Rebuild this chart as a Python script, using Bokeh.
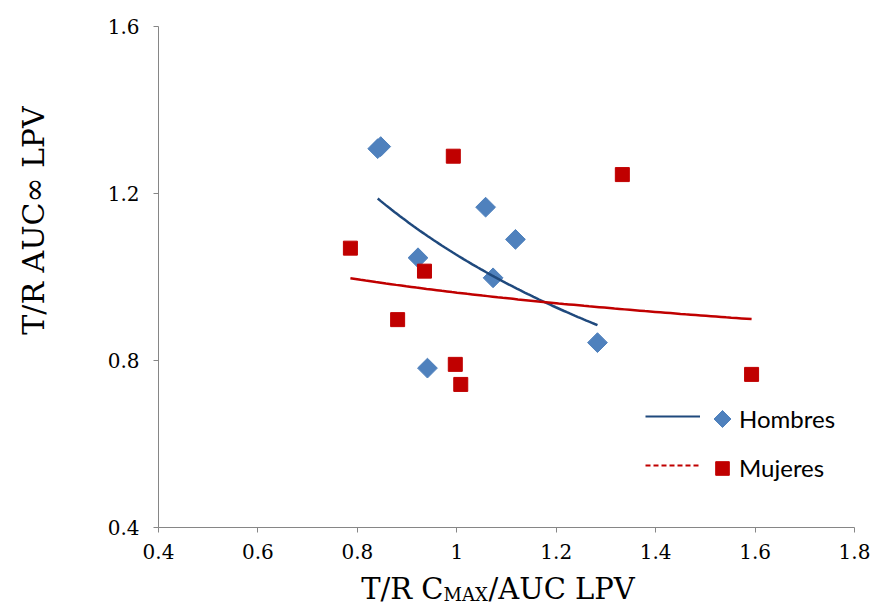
import numpy as np
from bokeh.plotting import figure
from bokeh.models import Range1d, FixedTicker, Legend, LegendItem, Label
from bokeh.embed import file_html
from bokeh.resources import INLINE

# T/R ratios per subject: Cmax/AUC (x) against AUC-infinity (y), levetiracetam
hombres_cmax = [0.841, 0.847, 1.058, 1.118, 0.922, 1.073, 1.283, 0.941]
hombres_auc = [1.307, 1.312, 1.167, 1.090, 1.046, 0.998, 0.843, 0.782]
mujeres_cmax = [0.993, 1.333, 0.786, 0.935, 0.881, 0.997, 1.008, 1.593]
mujeres_auc = [1.289, 1.245, 1.069, 1.014, 0.898, 0.791, 0.743, 0.767]

series_names = ["Hombres", "Mujeres"]

x_ticks = [0.4, 0.6, 0.8, 1.0, 1.2, 1.4, 1.6, 1.8]
x_tick_labels = ["0.4", "0.6", "0.8", "1", "1.2", "1.4", "1.6", "1.8"]
y_ticks = [0.4, 0.8, 1.2, 1.6]
y_tick_labels = ["0.4", "0.8", "1.2", "1.6"]

BLUE = "#4F81BD"
BLUE_TREND = "#1F497D"
RED = "#C00000"
AXIS_GREY = "#868686"
SERIF = "DejaVu Serif"

W, H = 872, 606
# pixel box of the plotting area inside the canvas (left, right, top, bottom)
AREA_L, AREA_R, AREA_T, AREA_B = 158, 854, 25.7, 527.3


def power_trend(x, y, n=80):
    """Least-squares power fit y = a * x**b (log-log regression)."""
    b, ln_a = np.polyfit(np.log(x), np.log(y), 1)
    xs = np.linspace(min(x), max(x), n)
    return xs, np.exp(ln_a) * xs ** b


# The frame covers the whole canvas so titles can sit in data space;
# the axes are pinned at the lower/left edge of the value box.
xs_per_px = (x_ticks[-1] - x_ticks[0]) / (AREA_R - AREA_L)
ys_per_px = (y_ticks[-1] - y_ticks[0]) / (AREA_B - AREA_T)
x_range = Range1d(x_ticks[0] - AREA_L * xs_per_px, x_ticks[-1] + (W - AREA_R) * xs_per_px)
y_range = Range1d(y_ticks[0] - (H - AREA_B) * ys_per_px, y_ticks[-1] + AREA_T * ys_per_px)


def px_x(px):
    return x_range.start + px * xs_per_px


def px_y(py):
    return y_range.end - py * ys_per_px


p = figure(
    width=W, height=H, x_range=x_range, y_range=y_range,
    output_backend="svg", toolbar_location=None,
    min_border=0, min_border_left=0, min_border_right=0,
    min_border_top=0, min_border_bottom=0,
)
p.grid.visible = False
p.outline_line_color = None
p.background_fill_color = "white"
p.border_fill_color = "white"

for ax in (p.xaxis[0], p.yaxis[0]):
    ax.axis_line_color = AXIS_GREY
    ax.axis_line_width = 1
    ax.major_tick_line_color = AXIS_GREY
    ax.major_tick_out = 5
    ax.major_tick_in = 0
    ax.minor_tick_line_color = None
    ax.major_label_text_font = SERIF
    ax.major_label_text_font_size = "20px"
    ax.major_label_text_color = "black"

p.xaxis.fixed_location = y_ticks[0]
p.xaxis.bounds = (x_ticks[0], x_ticks[-1])
p.xaxis.ticker = FixedTicker(ticks=x_ticks)
p.xaxis.major_label_overrides = dict(zip(x_ticks, x_tick_labels))
p.xaxis.major_label_standoff = 11
p.yaxis.fixed_location = x_ticks[0]
p.yaxis.bounds = (y_ticks[0], y_ticks[-1])
p.yaxis.ticker = FixedTicker(ticks=y_ticks)
p.yaxis.major_label_overrides = dict(zip(y_ticks, y_tick_labels))
p.yaxis.major_label_standoff = 14

# scatter points
h_pts = p.scatter(hombres_cmax, hombres_auc, marker="square", angle=np.pi / 4,
                  size=14, fill_color=BLUE, line_color=BLUE)
m_pts = p.scatter(mujeres_cmax, mujeres_auc, marker="square",
                  size=14, fill_color=RED, line_color=RED)

# power trend lines
hx, hy = power_trend(hombres_cmax, hombres_auc)
mx, my = power_trend(mujeres_cmax, mujeres_auc)
h_trend = p.line(hx, hy, line_color=BLUE_TREND, line_width=2.5)
m_trend = p.line(mx, my, line_color=RED, line_width=2.5)

# legend swatches (no visible data of their own)
nan = [np.nan]
h_key_line = p.line(nan, nan, line_color=BLUE_TREND, line_width=2)
m_key_line = p.line(nan, nan, line_color=RED, line_width=2, line_dash="5 3")
h_key_blank = p.scatter(nan, nan, marker="square", fill_alpha=0, line_alpha=0)
m_key_mark = p.scatter(nan, nan, marker="square", fill_color=RED, line_color=RED)

KEY_ROW1_Y, KEY_ROW2_Y, KEY_MARK_X = 418.5, 467.5, 722

line_legend = Legend(
    items=[LegendItem(label=" ", renderers=[h_key_line]),
           LegendItem(label=" ", renderers=[m_key_line])],
    location=(645, H - 480), glyph_width=55, glyph_height=30, label_height=30,
    label_width=1, label_standoff=0, spacing=19, padding=0, margin=0,
    label_text_font_size="10px",
    border_line_color=None, background_fill_alpha=0,
)
mark_legend = Legend(
    items=[LegendItem(label=series_names[0], renderers=[h_key_blank]),
           LegendItem(label=series_names[1], renderers=[m_key_mark])],
    location=(KEY_MARK_X - 17, H - (KEY_ROW2_Y + 17)), glyph_width=34, glyph_height=34,
    label_height=34, label_standoff=0, spacing=15, padding=0, margin=0,
    label_text_font="Lato", label_text_font_size="24px", label_text_color="black",
    border_line_color=None, background_fill_alpha=0,
)
p.add_layout(line_legend, "center")
p.add_layout(mark_legend, "center")

# the diamond key of the first legend row (legend keys are drawn unrotated)
p.scatter([px_x(KEY_MARK_X)], [px_y(KEY_ROW1_Y)], marker="square", angle=np.pi / 4,
          size=12, fill_color=BLUE, line_color=BLUE)

# axis titles
title_style = dict(text_font=SERIF, text_color="black")
p.add_layout(Label(x=px_x(33), y=px_y(220), text="T/R AUC\u221e LPV", angle=np.pi / 2,
                   text_align="center", text_baseline="middle",
                   text_font_size="30px", **title_style))
p.add_layout(Label(x=px_x(443), y=px_y(588), text="T/R C", text_align="right",
                   text_baseline="alphabetic", text_font_size="29px", **title_style))
p.add_layout(Label(x=px_x(443), y=px_y(594), text="MAX", text_align="left",
                   text_baseline="alphabetic", text_font_size="18px", **title_style))
p.add_layout(Label(x=px_x(488), y=px_y(588), text="/AUC LPV", text_align="left",
                   text_baseline="alphabetic", text_font_size="29px", **title_style))

open("out.html", "w").write(file_html(p, INLINE))
